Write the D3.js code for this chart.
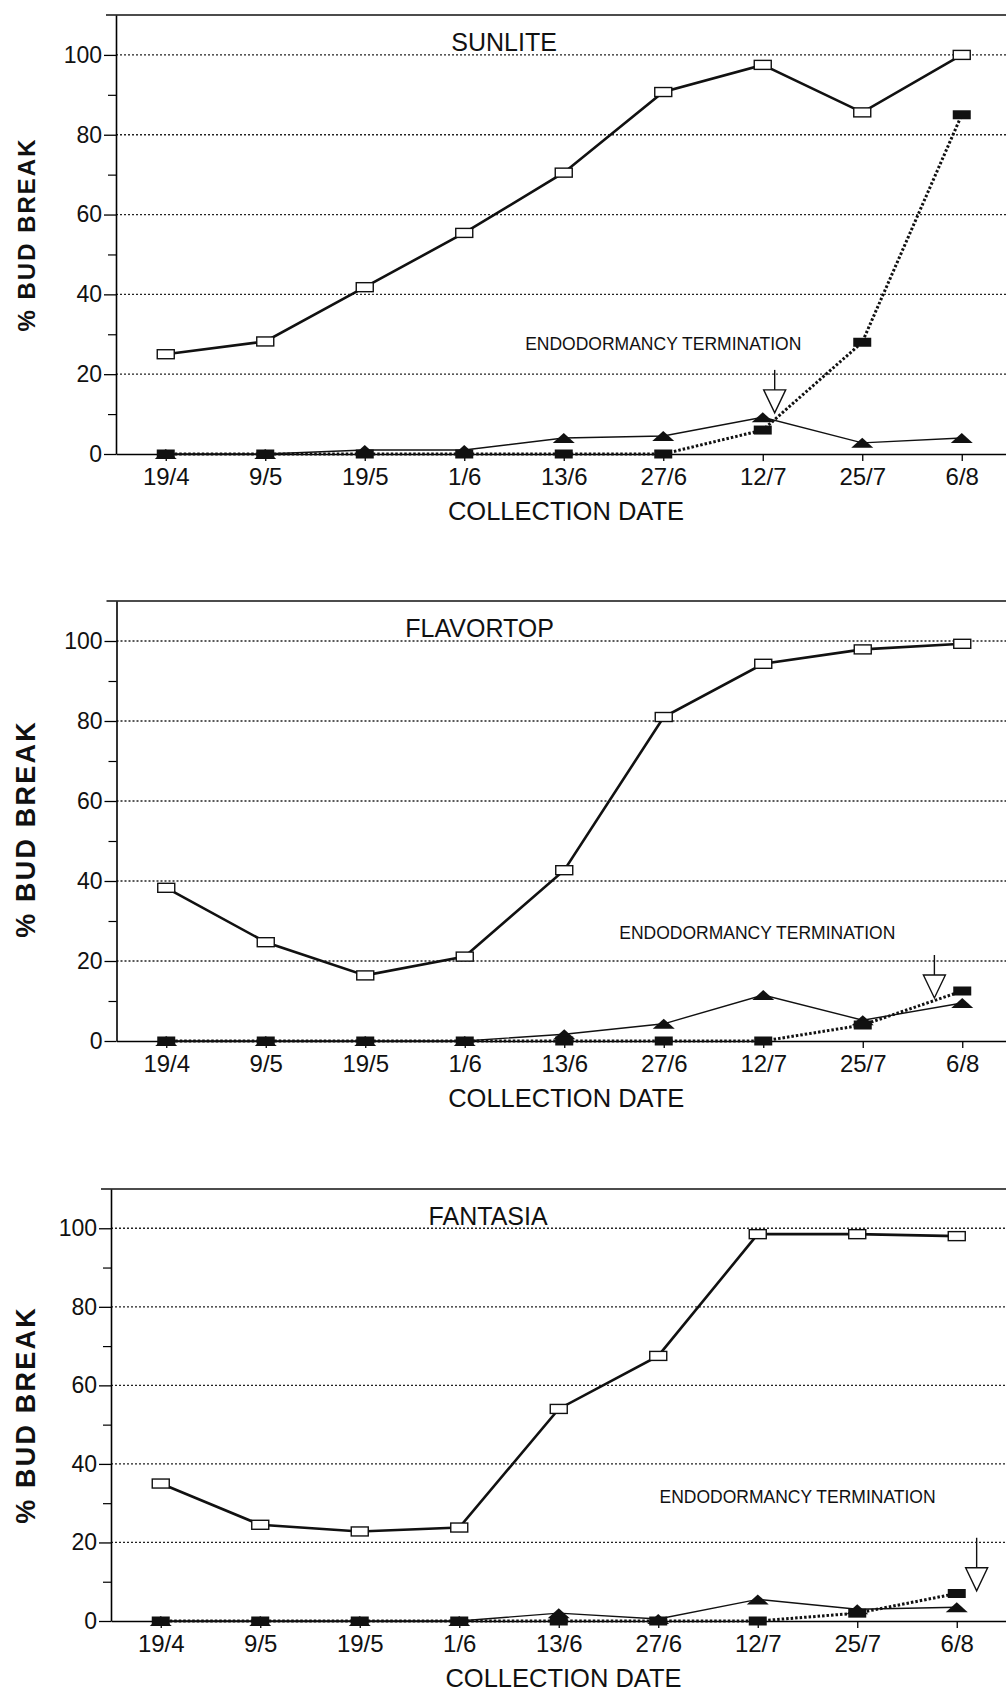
<!DOCTYPE html>
<html>
<head>
<meta charset="utf-8">
<script src="https://cdn.jsdelivr.net/npm/d3@7"></script>
<style>
  body { margin: 0; background: #fff; }
  svg { display: block; font-family: "Liberation Sans", Arial, Helvetica, sans-serif; }
</style>
</head>
<body>
<script>
// collection dates and the three cultivars
var dates = ["19/4", "9/5", "19/5", "1/6", "13/6", "27/6", "12/7", "25/7", "6/8"];
var cultivars = ["SUNLITE", "FLAVORTOP", "FANTASIA"];

// % bud break, one row per cultivar
var openSquares = [
  [25, 28.2, 41.8, 55.4, 70.5, 90.7, 97.5, 85.6, 100],
  [38.3, 24.7, 16.4, 21.1, 42.7, 81, 94.3, 97.9, 99.3],
  [35, 24.5, 22.8, 23.8, 54, 67.5, 98.5, 98.5, 98]
];
var filledBars = [
  [0, 0, 0, 0, 0, 0, 6, 28, 85],
  [0, 0, 0, 0, 0, 0, 0, 4, 12.5],
  [0, 0, 0, 0, 0, 0, 0, 2, 7]
];
var triangles = [
  [0, 0, 1, 1, 4, 4.5, 9.2, 2.8, 4],
  [0, 0, 0, 0, 1.7, 4.3, 11.5, 5.2, 9.5],
  [0, 0, 0, 0, 2, 0.5, 5.5, 3, 3.5]
];

var majorTicks = [0, 20, 40, 60, 80, 100];
var minorTicks = [10, 30, 50, 70, 90];

// endodormancy termination: position along the date axis (index) and arrow tip value
var terminationAt = [6.12, 7.72, 8.2];
var terminationTip = [10.3, 10.75, 7.7];
var terminationLabelAt = [5.0, 5.94, 6.4];
var terminationLabelVal = [26, 25.5, 30];
var titleAt = [3.4, 3.15, 3.29];

var width = 1006, height = 1692;
var panels = [
  {left: 116, top: 15, bottom: 454, ylab: 0},
  {left: 116.5, top: 601, bottom: 1041, ylab: 8},
  {left: 111, top: 1189, bottom: 1621, ylab: 10}
];
var step = 99.5;

var svg = d3.select("body").append("svg")
    .attr("width", width)
    .attr("height", height);

svg.append("rect").attr("width", width).attr("height", height).attr("fill", "#fff");

panels.forEach(function(p, k) {
  var x = d3.scalePoint()
      .domain(dates)
      .range([p.left, p.left + step * dates.length])
      .padding(0.5);
  var xi = function(i) { return p.left + step * (i + 0.5); };
  var y = d3.scaleLinear().domain([0, 110]).range([p.bottom, p.top]);

  var g = svg.append("g");

  // dotted grid
  g.selectAll(".grid")
    .data(majorTicks.filter(function(d) { return d > 0; }))
    .enter().append("line")
      .attr("x1", p.left).attr("x2", width)
      .attr("y1", function(d) { return y(d); })
      .attr("y2", function(d) { return y(d); })
      .attr("stroke", "#222")
      .attr("stroke-width", 1.3)
      .attr("stroke-dasharray", "2,2");

  // top frame line
  g.append("line")
    .attr("x1", p.left - 10).attr("x2", width)
    .attr("y1", p.top).attr("y2", p.top)
    .attr("stroke", "#111").attr("stroke-width", 1.5);

  // y axis
  var yAxis = g.append("g")
      .attr("transform", "translate(" + p.left + ",0)")
      .call(d3.axisLeft(y).tickValues(majorTicks).tickSize(12).tickSizeOuter(0).tickPadding(2).tickFormat(d3.format("d")));
  yAxis.select(".domain").attr("stroke-width", 1.6);
  yAxis.selectAll(".tick line").attr("stroke-width", 1.3);
  yAxis.selectAll("text").attr("font-size", 23).attr("fill", "#111");

  g.append("g")
      .attr("transform", "translate(" + p.left + ",0)")
      .call(d3.axisLeft(y).tickValues(minorTicks).tickSize(8).tickSizeOuter(0).tickFormat(""))
      .call(function(a) { a.select(".domain").remove(); })
      .selectAll(".tick line").attr("stroke-width", 1.2);

  // x axis
  var xAxis = g.append("g")
      .attr("transform", "translate(0," + p.bottom + ")")
      .call(d3.axisBottom(x).tickSize(7).tickSizeOuter(0).tickPadding(7));
  xAxis.select(".domain").attr("stroke-width", 1.6);
  xAxis.selectAll(".tick line").attr("stroke-width", 1.3);
  xAxis.selectAll("text").attr("font-size", 24).attr("fill", "#111");

  // axis titles
  g.append("text")
    .attr("x", (p.left + 1006) / 2 + 5)
    .attr("y", p.bottom + 66)
    .attr("text-anchor", "middle")
    .attr("font-size", 25.5)
    .attr("fill", "#111")
    .text("COLLECTION DATE");

  var cy = (p.top + p.bottom) / 2 + p.ylab;
  g.append("text")
    .attr("transform", "translate(" + 35 + "," + cy + ") rotate(-90)")
    .attr("text-anchor", "middle")
    .attr("font-size", k === 0 ? 24 : 27)
    .attr("font-weight", "bold")
    .attr("letter-spacing", k === 0 ? 2 : 2.2)
    .attr("fill", "#111")
    .text("% BUD BREAK");

  // cultivar title
  g.append("text")
    .attr("x", xi(titleAt[k]))
    .attr("y", p.top + 36)
    .attr("text-anchor", "middle")
    .attr("font-size", 25)
    .attr("fill", "#111")
    .text(cultivars[k]);

  // series lines
  var line = d3.line()
      .x(function(d, i) { return x(dates[i]); })
      .y(function(d) { return y(d); });

  g.append("path").datum(triangles[k])
    .attr("d", line).attr("fill", "none")
    .attr("stroke", "#111").attr("stroke-width", 1.4);

  g.append("path").datum(filledBars[k])
    .attr("d", line).attr("fill", "none")
    .attr("stroke", "#111").attr("stroke-width", 3)
    .attr("stroke-dasharray", "2.5,2");

  g.append("path").datum(openSquares[k])
    .attr("d", line).attr("fill", "none")
    .attr("stroke", "#111").attr("stroke-width", 2.6);

  // markers
  g.selectAll(".tri").data(triangles[k]).enter().append("path")
    .attr("d", "M-11,5L0,-5L11,5Z")
    .attr("transform", function(d, i) { return "translate(" + x(dates[i]) + "," + y(d) + ")"; })
    .attr("fill", "#111");

  g.selectAll(".bar").data(filledBars[k]).enter().append("rect")
    .attr("x", function(d, i) { return x(dates[i]) - 9; })
    .attr("y", function(d) { return y(d) - 4.5; })
    .attr("width", 18).attr("height", 9)
    .attr("fill", "#111");

  g.selectAll(".sq").data(openSquares[k]).enter().append("rect")
    .attr("x", function(d, i) { return x(dates[i]) - 8.5; })
    .attr("y", function(d) { return y(d) - 4.5; })
    .attr("width", 17).attr("height", 9)
    .attr("fill", "#fff")
    .attr("stroke", "#111").attr("stroke-width", 1.4);

  // endodormancy termination label and arrow
  g.append("text")
    .attr("x", xi(terminationLabelAt[k]))
    .attr("y", y(terminationLabelVal[k]))
    .attr("text-anchor", "middle")
    .attr("font-size", 17.5)
    .attr("fill", "#111")
    .text("ENDODORMANCY TERMINATION");

  var ax = xi(terminationAt[k]), tip = y(terminationTip[k]);
  var shaft = k === 2 ? 30 : 20;
  g.append("line")
    .attr("x1", ax).attr("x2", ax)
    .attr("y1", tip - 23 - shaft).attr("y2", tip - 23)
    .attr("stroke", "#111").attr("stroke-width", 1.4);
  g.append("path")
    .attr("d", "M" + (ax - 11) + "," + (tip - 23) + "L" + (ax + 11) + "," + (tip - 23) + "L" + ax + "," + tip + "Z")
    .attr("fill", "#fff")
    .attr("stroke", "#111").attr("stroke-width", 1.4);
});
</script>
</body>
</html>
